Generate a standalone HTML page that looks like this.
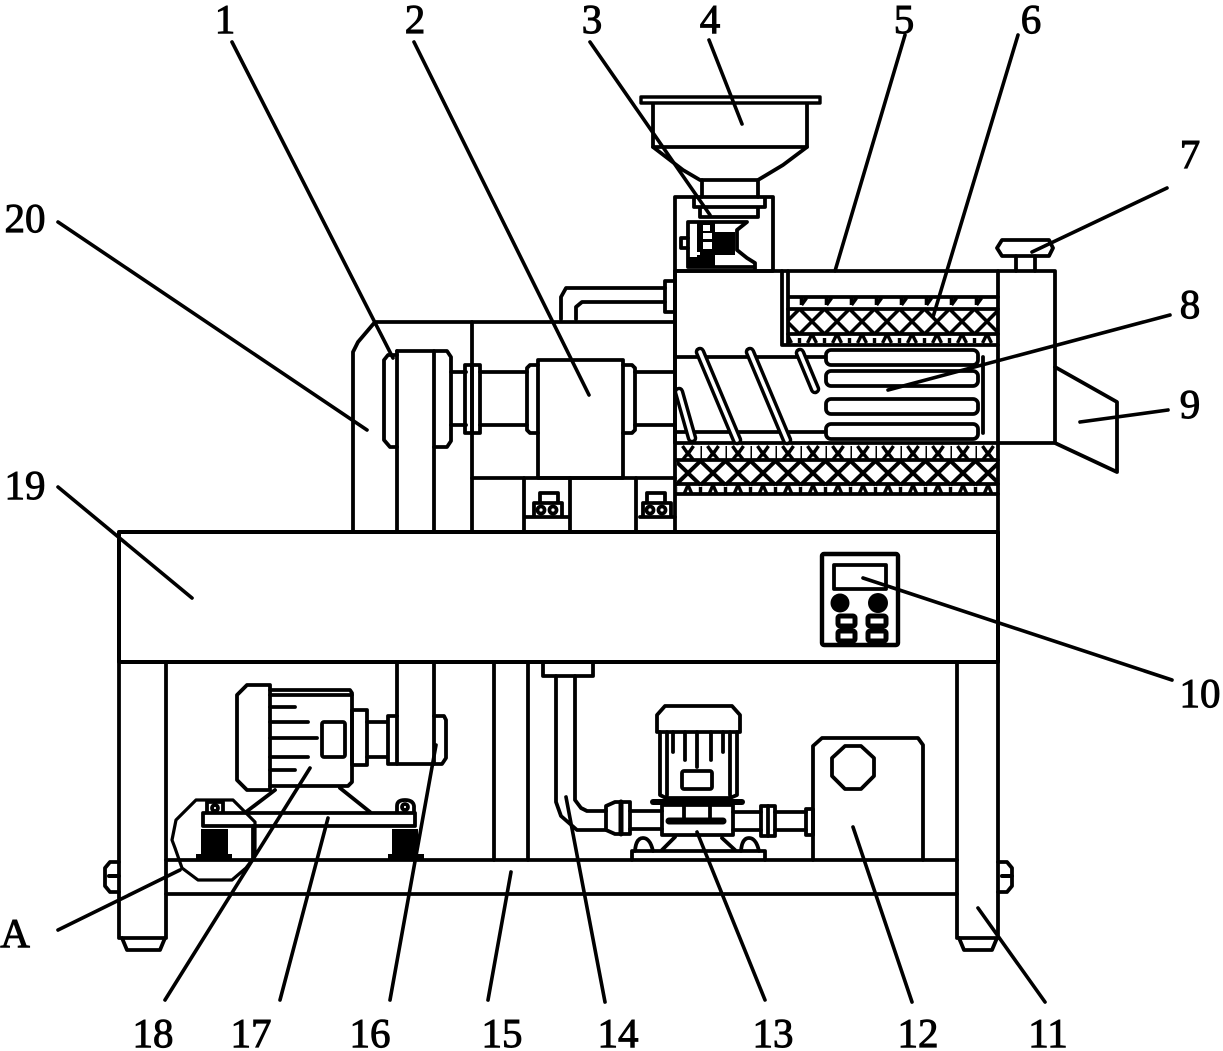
<!DOCTYPE html>
<html>
<head>
<meta charset="utf-8">
<style>
html,body{margin:0;padding:0;background:#fff;width:1223px;height:1051px;overflow:hidden}
svg{display:block}
text{font-family:"Liberation Serif",serif;font-size:41px;fill:#000;stroke:#000;stroke-width:1px;text-anchor:middle}
</style>
</head>
<body>
<svg width="1223" height="1051" viewBox="0 0 1223 1051" xmlns="http://www.w3.org/2000/svg">
<defs>
<pattern id="m1" x="799.5" y="297" width="25" height="48" patternUnits="userSpaceOnUse">
<g stroke="#000" fill="none">
<path d="M0 12L25 37M25 12L0 37" stroke-width="3.6"/>
<path d="M2 1V8M2 8L7 1" stroke-width="3.6"/>
<path d="M12.5 37L8 46M12.5 37L17 46M0 41V46M25 41V46" stroke-width="3.4"/>
</g>
</pattern>
<pattern id="m2" x="675.5" y="445" width="25" height="50" patternUnits="userSpaceOnUse">
<g stroke="#000" fill="none">
<path d="M0 16L25 40M25 16L0 40" stroke-width="4"/>
<path d="M7 1L12.5 9L18 1M7 15L12.5 8L18 15" stroke-width="3.4"/>
<path d="M0 1V15" stroke-width="3"/>
<path d="M12.5 40L9 48M12.5 40L16 48M0 42V48M25 42V48" stroke-width="3.4"/>
</g>
</pattern>
</defs>
<g fill="none" stroke="#000" stroke-width="3.8" stroke-linejoin="round" stroke-linecap="round">
<!-- hopper -->
<rect x="641" y="97" width="179" height="6" stroke-width="3.4"/>
<path d="M653 104V147L683 170L700 180H758L783 165L807 147V104"/>
<path d="M653 147H807"/>
<path d="M702 180V197M758 180V197"/>
<rect x="675" y="197" width="98" height="74"/>
<path d="M694 199V207H765V199M700 207V217H758V207"/>
<!-- mechanism 3 -->
<path d="M688 267V222H747L737 230V250L747 258L755 263V269M688 267H755"/>
<path d="M688 238H681V248H688"/>
<g fill="#000" stroke="none">
<rect x="697" y="223" width="18" height="44"/>
<rect x="715" y="232" width="20" height="23"/>
<rect x="688" y="257" width="9" height="9"/>
</g>
<g fill="#fff" stroke="none">
<rect x="703" y="225" width="7" height="6"/>
<rect x="703" y="233" width="9" height="6"/>
<rect x="703" y="242" width="9" height="7"/>
<rect x="690" y="226" width="7" height="6"/>
<rect x="690" y="252" width="10" height="3"/>
<rect x="690" y="240" width="7" height="8"/>
</g>
<!-- main barrel -->
<path d="M675 271H1055V443H675V271"/>
<path d="M998 271V531"/>
<path d="M782 271V345H998M788 271V345M788 297H998" />
<rect x="788" y="297" width="210" height="48" fill="url(#m1)" stroke="none"/>
<path d="M788 309H998M788 334H998"/>
<path d="M675 357H825M675 432H825M983 357V433"/>
<rect x="826" y="350" width="152" height="15" rx="5"/>
<rect x="826" y="371" width="152" height="15" rx="5"/>
<rect x="826" y="399" width="152" height="15" rx="5"/>
<rect x="826" y="424" width="152" height="15" rx="5"/>
<!-- slanted fins -->
<g stroke-width="10.5"><path d="M700 352L737 440M750 352L787 440M800 353L815 389M679 392L692 438"/></g>
<g stroke="#fff" stroke-width="3.6"><path d="M700 352L737 440M750 352L787 440M800 353L815 389M679 392L692 438"/></g>
<!-- bottom mesh -->
<rect x="677" y="445" width="321" height="50" fill="url(#m2)" stroke="none"/>
<path d="M677 460H998M677 484H998M677 494H998M675 271V531"/>
<!-- knob -->
<path d="M1002 240H1049L1053 248L1049 256H1002L997 248Z"/>
<path d="M1016 256V271M1035 256V271"/>
<!-- nozzle -->
<path d="M1055 367L1117 402V472L1055 443"/>
<!-- pipe -->
<path d="M561 319V297L566 288H665M576 319V307L582 302H665"/>
<path d="M675 281H665V312H675"/>
<!-- left frame -->
<path d="M353 531V352L358 342L375 322H675"/>
<path d="M472 322V531"/>
<path d="M397 351H447L451 357V441L447 447H434"/>
<path d="M397 531V351M434 351V531"/>
<path d="M397 355H388L384 360V440L390 447H397"/>
<path d="M451 372H466M451 425H466"/>
<rect x="465" y="365" width="15" height="68"/>
<path d="M472 365V433"/>
<path d="M480 372H527M480 425H527"/>
<path d="M538 365H530L527 368V430L530 433H538"/>
<rect x="538" y="360" width="85" height="118"/>
<path d="M623 365H632L635 368V430L632 433H623"/>
<path d="M635 372H675M635 425H675"/>
<path d="M472 478H675"/>
<path d="M524 478V531M570 478V531M636 478V531M524 517H570M640 517H675"/>
<!-- bolts -->
<path d="M540 503V493H558V503M534 516V503H562V516"/>
<circle cx="541" cy="510" r="3.5"/><circle cx="553" cy="510" r="3.5"/>
<path d="M647 503V493H665V503M643 516V503H671V516"/>
<circle cx="650" cy="510" r="3.5"/><circle cx="662" cy="510" r="3.5"/>
<!-- table -->
<rect x="119" y="532" width="879" height="130" stroke-width="4" fill="#fff"/>
<!-- legs -->
<path d="M119 662V938H166V662"/>
<path d="M122 938L127 950H160L165 938"/>
<path d="M957 662V938H998V662"/>
<path d="M959 938L964 950H992L997 938"/>
<path d="M166 860H957M166 894H957"/>
<!-- pins -->
<path d="M119 862H110L105 868V886L110 892H119"/>
<path d="M998 862H1007L1012 868V886L1007 892H998"/>
<path d="M109 876H119M1002 876H1012" stroke-width="4"/>
<!-- columns -->
<path d="M397 662V764H434V662"/>
<path d="M494 662V860M528 662V860"/>
<!-- motor -->
<path d="M247 685H270V790H247L237 780V695Z"/>
<path d="M270 690H350L352 693V782L348 786H270"/>
<path d="M270 695H352"/>
<path d="M270 707H295M270 722H308M270 738H317M270 757H308M270 770H295"/>
<rect x="322" y="722" width="23" height="35" rx="2"/>
<rect x="352" y="710" width="15" height="55"/>
<path d="M367 722H387M367 757H387"/>
<path d="M397 716H388V764H397"/>
<path d="M434 716H444L446 720V758L442 764H434"/>
<!-- motor base -->
<path d="M340 788L370 812M275 790L246 812"/>
<rect x="203" y="813" width="212" height="13"/>
<path d="M207 812V802H223V812"/><circle cx="215" cy="808" r="3"/>
<path d="M397 812V806Q397 800 405 800Q413 800 414 806V812"/><circle cx="405" cy="807" r="3"/>
<path d="M253 826V860"/>
<g fill="#000" stroke="none">
<rect x="201" y="829" width="27" height="25"/>
<rect x="392" y="829" width="26" height="25"/>
<rect x="196" y="854" width="36" height="5"/>
<rect x="388" y="854" width="36" height="5"/>
</g>
<!-- circle A -->
<path d="M196 800H233L255 822V856L246 868L232 880H198L182 868L175 848L172 840L176 820Z" stroke-width="3.2"/>
<!-- pipe 14 and pump -->
<path d="M543 662V676H593V662"/>
<path d="M556 676V802L561 816L577 830H606"/>
<path d="M575 676V800L581 808L587 811H606"/>
<path d="M606 806L615 802H630V834H615L606 830Z"/>
<path d="M621 802V834" stroke-width="5"/>
<path d="M630 811H662M630 829H662"/>
<rect x="662" y="805" width="71" height="30"/>
<path d="M669 821H723" stroke-width="7"/>
<path d="M684 805V818M710 805V818"/>
<path d="M653 802H742" stroke-width="6"/>
<path d="M733 812H761M733 830H761"/>
<rect x="761" y="806" width="14" height="30"/>
<path d="M768 806V836"/>
<path d="M775 812H806M775 830H806"/>
<rect x="806" y="809" width="7" height="26"/>
<!-- pump motor -->
<path d="M665 706H732L740 715V732H657V715Z"/>
<path d="M660 732V795L666 798H730L737 795V732"/>
<path d="M667 732V795M730 732V795"/>
<path d="M673 732V752M685 732V760M697 732V767M711 732V760M723 732V752"/>
<rect x="682" y="771" width="30" height="18" rx="2"/>
<!-- pump base -->
<path d="M632 860V851H765V860"/>
<path d="M635 851Q636 838 643 838Q650 838 653 851M741 851Q742 838 749 838Q756 838 759 851"/>
<path d="M662 850L675 837M722 838L735 850"/>
<!-- tank -->
<path d="M813 860V746L822 738H918L923 745V860"/>
<path d="M845 746H861L874 758V776L861 789H845L832 776V758Z"/>
<!-- controller -->
<rect x="822" y="554" width="76" height="91" rx="2" stroke-width="4.4"/>
<rect x="834" y="565" width="52" height="24" stroke-width="3.8"/>
<circle cx="840" cy="603" r="9.5" fill="#000" stroke="none"/>
<circle cx="878" cy="603" r="10" fill="#000" stroke="none"/>
<rect x="838" y="616" width="17" height="10" rx="2" stroke-width="5"/>
<rect x="868" y="616" width="18" height="10" rx="2" stroke-width="5"/>
<rect x="838" y="631" width="17" height="10" rx="2" stroke-width="5"/>
<rect x="868" y="631" width="18" height="10" rx="2" stroke-width="5"/>
<!-- leaders -->
<g stroke-width="3.6">
<path d="M232 42L393 358"/>
<path d="M414 42L589 395"/>
<path d="M590 42L710 215"/>
<path d="M709 40L742 124"/>
<path d="M905 35L835 271"/>
<path d="M1018 35L933 317"/>
<path d="M1167 188L1032 252"/>
<path d="M1170 315L888 390"/>
<path d="M1168 410L1080 422"/>
<path d="M1172 680L863 578"/>
<path d="M1045 1002L978 908"/>
<path d="M912 1002L853 827"/>
<path d="M765 1000L697 832"/>
<path d="M605 1002L566 797"/>
<path d="M488 1000L511 872"/>
<path d="M390 1000L436 745"/>
<path d="M280 1000L328 818"/>
<path d="M165 1000L310 768"/>
<path d="M58 487L192 598"/>
<path d="M58 222L367 430"/>
<path d="M58 930L180 870"/>
</g>
</g>
<text x="225" y="33">1</text>
<text x="415" y="33">2</text>
<text x="592" y="33">3</text>
<text x="710" y="33">4</text>
<text x="904" y="33">5</text>
<text x="1031" y="33">6</text>
<text x="1190" y="168">7</text>
<text x="1190" y="318">8</text>
<text x="1190" y="418">9</text>
<text x="1200" y="707">10</text>
<text x="1048" y="1047">11</text>
<text x="918" y="1047">12</text>
<text x="773" y="1047">13</text>
<text x="618" y="1047">14</text>
<text x="502" y="1047">15</text>
<text x="370" y="1047">16</text>
<text x="251" y="1047">17</text>
<text x="153" y="1047">18</text>
<text x="25" y="499">19</text>
<text x="25" y="232">20</text>
<text x="15" y="947">A</text>
</svg>
</body>
</html>
